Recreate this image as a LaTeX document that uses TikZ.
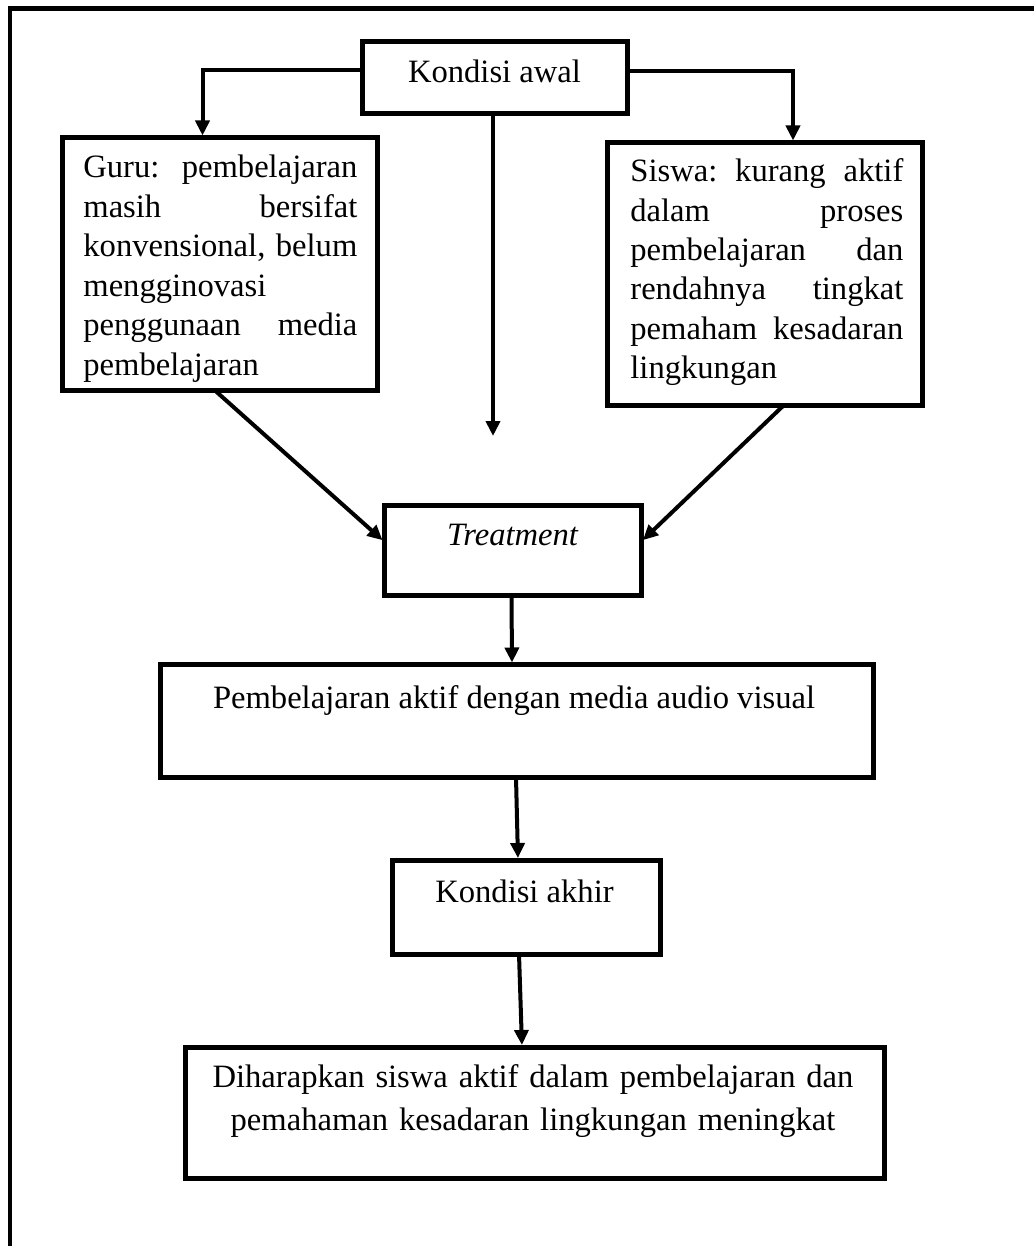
\documentclass[tikz,border=0pt]{standalone}
\usepackage{fontspec}
\setmainfont{Liberation Serif}
\usetikzlibrary{arrows.meta,calc,fit}
\newcommand{\jline}[1]{\leavevmode\hbox to \hsize{\spaceskip=0.25em plus 1fill\relax\xspaceskip=\spaceskip #1}}
\begin{document}
\begin{tikzpicture}[x=0.5pt,y=-0.5pt,
  box/.style={draw, line width=2.5pt, inner sep=0pt, outer sep=0pt},
  frame/.style={line width=2.25pt},
  arr/.style={line width=2pt, -{Triangle[width=7pt,length=7.5pt]}, shorten >=1pt},
  txt/.style={inner sep=0pt, font=\fontsize{16.3pt}{19.7pt}\selectfont},
  para/.style={txt, anchor=base west, align=left},
]
\useasboundingbox (0,0) rectangle (1033,1246);
% outer frame (top and left sides)
\draw[frame] (1045,8.5) -- (10,8.5) -- (10,1260);

% boxes
\node (ka)    [box, fit={(362,41.5) (627.5,114)}] {};
\node (guru)  [box, fit={(62.5,137.5) (377.5,390.5)}] {};
\node (siswa) [box, fit={(607.5,142.5) (922.5,405.5)}] {};
\node (tr)    [box, fit={(384,505) (641.5,595.5)}] {};
\node (pa)    [box, fit={(160,664.5) (873,777.5)}] {};
\node (kh)    [box, fit={(392,860) (660,954)}] {};
\node (fin)   [box, fit={(185,1047) (884,1178)}] {};

% texts
\node (ka-t) [txt, anchor=base] at (494.5,83) {Kondisi awal};
\node (guru-t) [para, text width=137pt] at (83,178)
  {\jline{Guru: pembelajaran}\\
   \jline{masih bersifat}\\
   \jline{konvensional, belum}\\
   mengginovasi\\
   \jline{penggunaan media}\\
   pembelajaran};
\node (siswa-t) [para, text width=136.5pt] at (630,181.7)
  {\jline{Siswa: kurang aktif}\\
   \jline{dalam proses}\\
   \jline{pembelajaran dan}\\
   \jline{rendahnya tingkat}\\
   \jline{pemaham kesadaran}\\
   lingkungan};
\node (tr-t) [txt, anchor=base, font=\fontsize{16.3pt}{19.7pt}\selectfont\itshape] at (512.5,545) {Treatment};
\node (pa-t) [txt, anchor=base] at (514,708) {Pembelajaran aktif dengan media audio visual};
\node (kh-t) [txt, anchor=base] at (524.5,902) {Kondisi akhir};
\node (fin-t) [txt, anchor=base, text width=340pt, align=center,
  font=\fontsize{16.3pt}{21.5pt}\selectfont] at (533,1087)
  {Diharapkan siswa aktif dalam pembelajaran dan\\
   pemahaman kesadaran lingkungan meningkat};

% connectors
\coordinate (mid) at (493,438);
\draw[arr] ($(ka.north west)+(0,28.5)$) -| ($(guru.north west)+(140,0)$);
\draw[arr] ($(ka.north east)+(0,30)$) -| ($(siswa.north west)+(185.5,0)$);
\draw[arr] (mid |- ka.south) -- (mid);
\draw[arr] ($(guru.south west)+(152.5,0)$) -- ($(tr.north west)+(0,36.5)$);
\draw[arr] ($(siswa.south west)+(176,0)$) -- ($(tr.north east)+(0,36.5)$);
\draw[arr] ($(tr.south west)+(127.5,0)$) -- ($(pa.north west)+(352,0)$);
\draw[arr] ($(pa.south west)+(356,0)$) -- ($(kh.north west)+(126,0)$);
\draw[arr] ($(kh.south west)+(127,0)$) -- ($(fin.north west)+(337,0)$);
\end{tikzpicture}
\end{document}
